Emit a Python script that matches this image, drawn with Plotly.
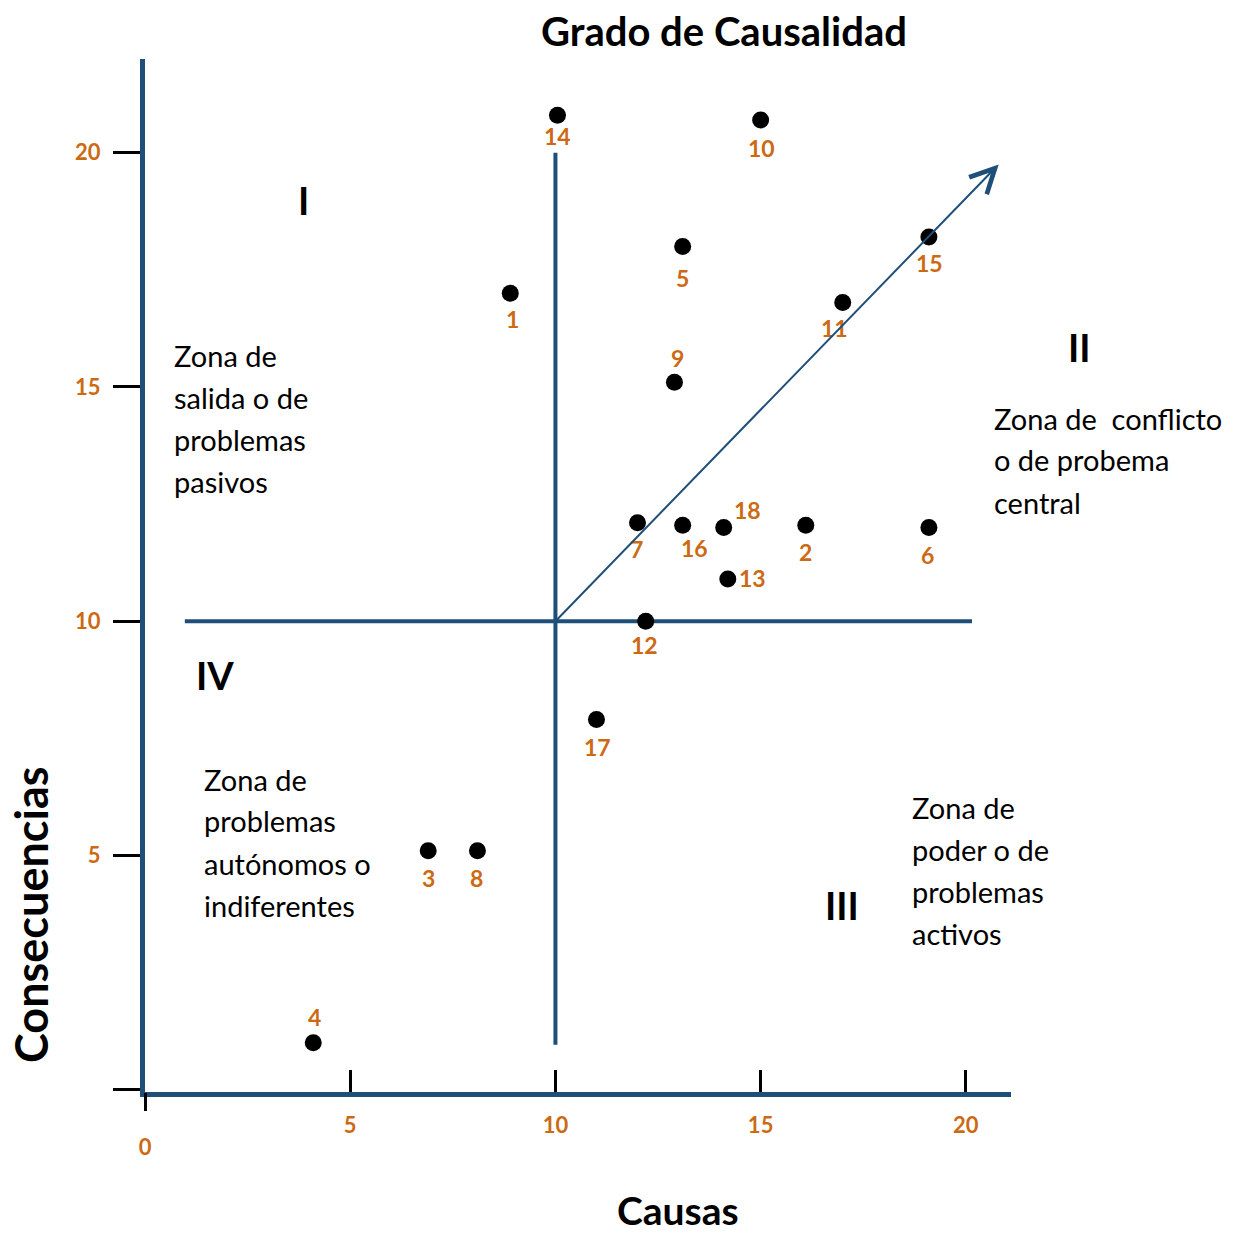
import plotly.graph_objects as go

# datos: (causas, consecuencias) de cada problema
problemas = ["14", "10", "5", "15", "1", "11", "9", "7", "16", "18", "2", "6", "13", "12", "17", "3", "8", "4"]
causas = [10.05, 15.0, 13.1, 19.1, 8.9, 17.0, 12.9, 12.0, 13.1, 14.1, 16.1, 19.1, 14.2, 12.2, 11.0, 6.9, 8.1, 4.1]
consecuencias = [20.8, 20.7, 18.0, 18.2, 17.0, 16.8, 15.1, 12.1, 12.05, 12.0, 12.05, 12.0, 10.9, 10.0, 7.9, 5.1, 5.1, 1.0]

# desplazamiento de cada etiqueta (px)
label_dx = [0, 1, 0, 1, 2, -8, 3, -1, 12, 24, 0, -1, 25, -1, 1, 0, -1, 1]
label_dy = [21, 28, 32, 26, 26, 25, -24, 26, 23, -17, 27, 28, -1, 24, 27, 27, 27, -26]

# lineas divisorias de cuadrantes
vline_x = [10, 10]
vline_y = [0.96, 20.0]
hline_x = [0.97, 20.15]
hline_y = [10, 10]

# flecha de diagonal
flecha_inicio = [10, 10]
flecha_fin = [20.8, 19.75]

x_ticks = [5, 10, 15, 20]
x_ticktext = ["<b>5</b>", "<b>10</b>", "<b>15</b>", "<b>20</b>"]
y_ticks = [0, 5, 10, 15, 20]
y_ticktext = ["", "<b>5</b>", "<b>10</b>", "<b>15</b>", "<b>20</b>"]

AZUL = "#1F4E79"
NARANJA = "#CC6A14"
FONT = "Lato"

W, H = 1234, 1237
# area de trazado en pixeles
L, R, T, B = 145, 1011, 59, 1092


def px(p):
    return (p - L) / (R - L)


def py(q):
    return (B - q) / (B - T)


fig = go.Figure()

fig.add_trace(go.Scatter(x=vline_x, y=vline_y, mode="lines",
                         line=dict(color=AZUL, width=4), hoverinfo="skip"))
fig.add_trace(go.Scatter(x=hline_x, y=hline_y, mode="lines",
                         line=dict(color=AZUL, width=4), hoverinfo="skip"))
fig.add_trace(go.Scatter(x=causas, y=consecuencias, mode="markers",
                         marker=dict(color="black", size=17), text=problemas))
# eje auxiliar solo para el tick 0
fig.add_trace(go.Scatter(x=[0], y=[0], xaxis="x2", mode="markers",
                         marker=dict(opacity=0), hoverinfo="skip"))

for t, x, y, dx, dy in zip(problemas, causas, consecuencias, label_dx, label_dy):
    fig.add_annotation(x=x, y=y, text="<b>%s</b>" % t, showarrow=False,
                       xshift=dx, yshift=-dy,
                       font=dict(family=FONT, size=23, color=NARANJA))

fig.add_annotation(x=flecha_fin[0], y=flecha_fin[1], ax=flecha_inicio[0], ay=flecha_inicio[1],
                   xref="x", yref="y", axref="x", ayref="y", text="",
                   showarrow=True, arrowhead=5, arrowsize=2.4, arrowwidth=2,
                   arrowcolor=AZUL, standoff=0)

# textos de zonas (una anotacion por linea)
zonas = [
    (172, 355, ["Zona de", "salida o de", "problemas", "pasivos"]),
    (992, 418, ["Zona de  conflicto", "o de probema", "central"]),
    (202, 779, ["Zona de", "problemas", "autónomos o", "indiferentes"]),
    (910, 807, ["Zona de", "poder o de", "problemas", "activos"]),
]
for x0, y0, lineas in zonas:
    for i, s in enumerate(lineas):
        fig.add_annotation(x=px(x0), y=py(y0 + 42 * i), xref="paper", yref="paper",
                           text=s, showarrow=False, xanchor="left", yanchor="middle",
                           font=dict(family=FONT, size=29, color="black"))

romanos = [(303, 200, "I"), (1079, 347, "II"), (842, 905, "III"), (215, 675, "IV")]
for x0, y0, s in romanos:
    fig.add_annotation(x=px(x0), y=py(y0), xref="paper", yref="paper",
                       text="<b>%s</b>" % s, showarrow=False,
                       xanchor="center", yanchor="middle",
                       font=dict(family=FONT, size=38, color="black"))

fig.add_annotation(x=px(724), y=py(31), xref="paper", yref="paper",
                   text="<b>Grado de Causalidad</b>", showarrow=False,
                   xanchor="center", yanchor="middle",
                   font=dict(family=FONT, size=40, color="black"))
fig.add_annotation(x=px(678), y=py(1210), xref="paper", yref="paper",
                   text="<b>Causas</b>", showarrow=False,
                   xanchor="center", yanchor="middle",
                   font=dict(family=FONT, size=39, color="black"))
fig.add_annotation(x=px(31), y=py(915), xref="paper", yref="paper",
                   text="<b>Consecuencias</b>", showarrow=False, textangle=-90,
                   xanchor="center", yanchor="middle",
                   font=dict(family=FONT, size=45, color="black"))

tickfont = dict(family=FONT, size=22, color=NARANJA)

fig.update_layout(
    width=W, height=H,
    margin=dict(l=L, r=W - R, t=T, b=H - B),
    paper_bgcolor="white", plot_bgcolor="white",
    showlegend=False,
    xaxis=dict(range=[0, 21.1], showgrid=False, zeroline=False,
               showline=True, linecolor=AZUL, linewidth=5,
               tickvals=x_ticks, ticktext=x_ticktext, ticks="inside", ticklen=22,
               tickwidth=3, tickcolor="black", ticklabelstandoff=10,
               tickfont=tickfont),
    xaxis2=dict(range=[0, 21.1], overlaying="x", anchor="y", side="bottom",
                showgrid=False, zeroline=False, showline=False,
                tickvals=[0], ticktext=["<b>0</b>"], ticks="outside", ticklen=18,
                tickwidth=3, tickcolor="black", ticklabelstandoff=18,
                tickfont=tickfont),
    yaxis=dict(range=[-0.05, 22], showgrid=False, zeroline=False,
               showline=True, linecolor=AZUL, linewidth=5,
               tickvals=y_ticks, ticktext=y_ticktext, ticks="outside",
               ticklen=27, tickwidth=3, tickcolor="black", ticklabelstandoff=8,
               tickfont=tickfont),
)

fig.write_html("out.html", config={"displayModeBar": False},
               post_script="document.body.style.margin='0';")
